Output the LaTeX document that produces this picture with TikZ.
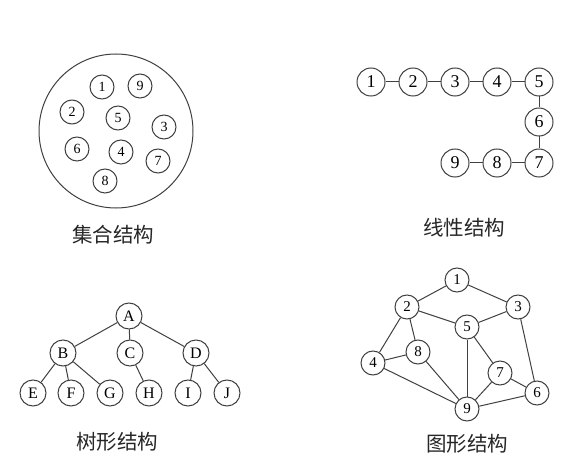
\documentclass[tikz,border=0pt]{standalone}
\usepackage{fontspec}
\setmainfont{Liberation Serif}
\newfontfamily\cjk{Noto Sans CJK SC}
\begin{document}
\begin{tikzpicture}[x=1pt,y=-1pt,
  ln/.style={draw=black!75,line width=1pt},
  nd/.style={circle,ln,inner sep=0pt,fill=white},
  sA/.style={nd,minimum size=24pt,font=\fontsize{14}{14}\selectfont},
  sB/.style={nd,minimum size=28pt,font=\fontsize{18}{18}\selectfont},
  sC/.style={nd,minimum size=26pt,font=\fontsize{16}{16}\selectfont},
  sD/.style={nd,minimum size=24pt,font=\fontsize{15}{15}\selectfont},
  lbl/.style={font=\cjk\fontsize{20.5}{20.5}\selectfont,text=black!85}]
\useasboundingbox (0,0) rectangle (586,465);
% set structure
\node[circle,ln,minimum size=154pt,inner sep=0pt] (big) at (116,131) {};
\node[sA] (a1) at (102,87) {1};
\node[sA] (a9) at (140,86) {9};
\node[sA] (a2) at (72,112) {2};
\node[sA] (a5) at (118,118) {5};
\node[sA] (a3) at (164,127) {3};
\node[sA] (a6) at (77,149) {6};
\node[sA] (a4) at (121,152) {4};
\node[sA] (a7) at (158,161) {7};
\node[sA] (a8) at (105,181) {8};
\node[lbl] (la) at (113,235) {集合结构};
% linear structure
\node[sB] (b1) at (371,82) {1};
\node[sB] (b2) at (413,82) {2};
\node[sB] (b3) at (455,82) {3};
\node[sB] (b4) at (497,82) {4};
\node[sB] (b5) at (539,82) {5};
\node[sB] (b6) at (539,122) {6};
\node[sB] (b7) at (539,163) {7};
\node[sB] (b8) at (497,163) {8};
\node[sB] (b9) at (455,163) {9};
\foreach \p/\q in {b1/b2,b2/b3,b3/b4,b4/b5,b5/b6,b6/b7,b7/b8,b8/b9}
  \draw[ln] (\p) -- (\q);
\node[lbl] (lb) at (464,228) {线性结构};
% tree structure
\node[sC] (tA) at (129,316) {A};
\node[sC] (tB) at (63,353) {B};
\node[sC] (tC) at (130,353) {C};
\node[sC] (tD) at (196,353) {D};
\node[sC] (tE) at (33,393) {E};
\node[sC] (tF) at (71,393) {F};
\node[sC] (tG) at (110,393) {G};
\node[sC] (tH) at (149,393) {H};
\node[sC] (tI) at (188,393) {I};
\node[sC] (tJ) at (227,393) {J};
\foreach \p/\q in {tA/tB,tA/tC,tA/tD,tB/tE,tB/tF,tB/tG,tC/tH,tD/tI,tD/tJ}
  \draw[ln] (\p) -- (\q);
\node[lbl] (lc) at (117,442) {树形结构};
% graph structure
\node[sD] (g1) at (457,280) {1};
\node[sD] (g2) at (407,307) {2};
\node[sD] (g3) at (518,307) {3};
\node[sD] (g5) at (467,327) {5};
\node[sD] (g8) at (418,352) {8};
\node[sD] (g4) at (373,363) {4};
\node[sD] (g7) at (500,373) {7};
\node[sD] (g6) at (537,393) {6};
\node[sD] (g9) at (467,409) {9};
\foreach \p/\q in {g1/g2,g1/g3,g2/g5,g3/g5,g2/g4,g2/g8,g4/g8,g4/g9,g8/g9,g5/g9,g5/g7,g7/g9,g7/g6,g3/g6,g9/g6}
  \draw[ln] (\p) -- (\q);
\node[lbl] (ld) at (467,444) {图形结构};
\end{tikzpicture}
\end{document}
